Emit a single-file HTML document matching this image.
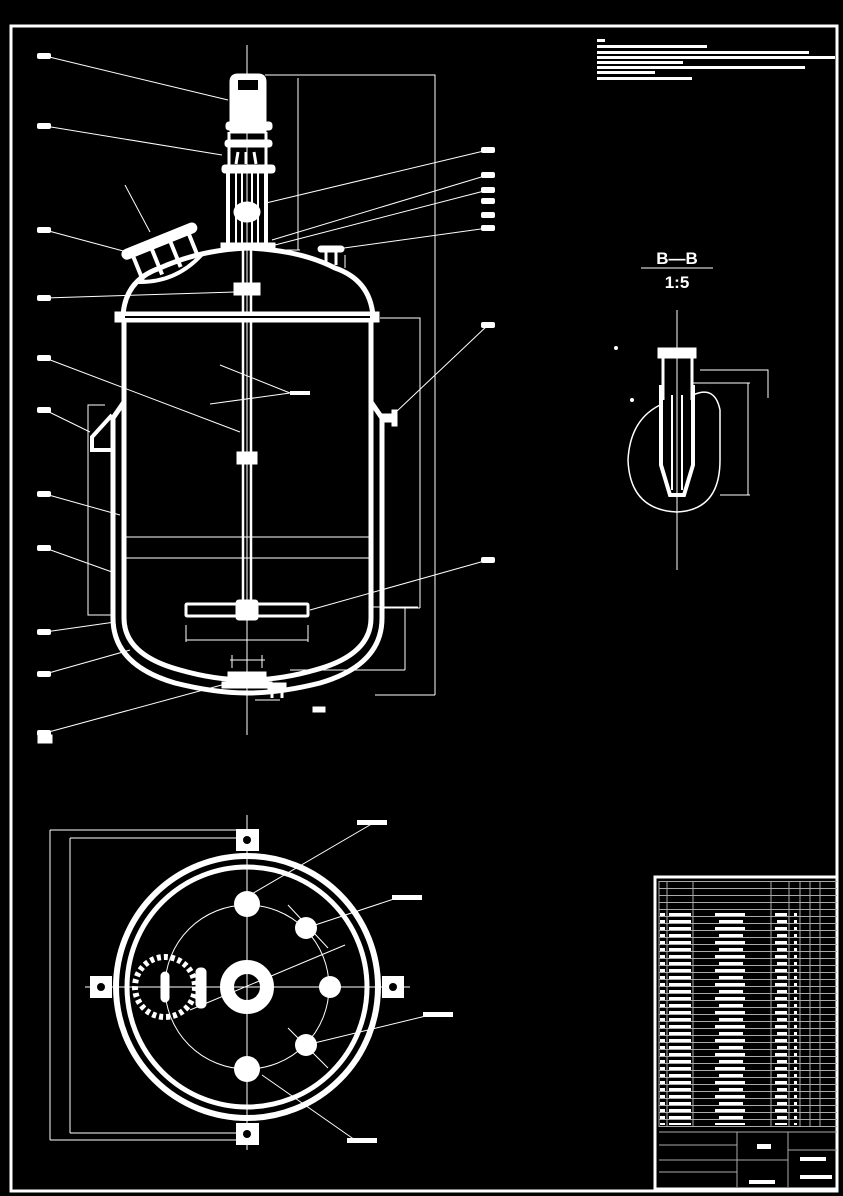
<!DOCTYPE html>
<html><head><meta charset="utf-8"><style>
html,body{margin:0;padding:0;background:#000;}
svg{display:block;}
text{font-family:"Liberation Sans",sans-serif;fill:#fff;}
</style></head><body>
<svg width="843" height="1196" viewBox="0 0 843 1196" xmlns="http://www.w3.org/2000/svg">
<defs>
<pattern id="rows" x="659" y="881" width="10" height="7" patternUnits="userSpaceOnUse">
<line x1="0" y1="0.5" x2="10" y2="0.5" stroke="#aaa" stroke-width="1"/>
</pattern>
<pattern id="bars" x="659" y="909" width="178" height="14" patternUnits="userSpaceOnUse">
<rect x="1" y="4" width="5" height="3" fill="#fff"/>
<rect x="10" y="4" width="22" height="3" fill="#fff"/>
<rect x="56" y="4" width="30" height="3" fill="#fff"/>
<rect x="116" y="4" width="12" height="3" fill="#fff"/>
<rect x="135" y="4" width="3" height="3" fill="#fff"/>
<rect x="1" y="11" width="5" height="3" fill="#fff"/>
<rect x="10" y="11" width="22" height="3" fill="#fff"/>
<rect x="60" y="11" width="24" height="3" fill="#fff"/>
<rect x="118" y="11" width="10" height="3" fill="#fff"/>
<rect x="135" y="11" width="3" height="3" fill="#fff"/>
</pattern>
</defs>
<rect width="843" height="1196" fill="#000"/>
<rect x="11" y="26" width="826" height="1165" fill="none" stroke="#fff" stroke-width="3"/>
<g fill="#fff">
<rect x="597" y="39" width="8" height="3"/>
<rect x="597" y="45" width="110" height="3"/>
<rect x="597" y="51" width="212" height="3"/>
<rect x="597" y="56" width="238" height="3"/>
<rect x="597" y="61" width="86" height="3"/>
<rect x="597" y="66" width="208" height="3"/>
<rect x="597" y="71" width="58" height="3"/>
<rect x="597" y="77" width="95" height="3"/>
</g>

<g stroke="#fff" fill="none">
<line x1="247" y1="45" x2="247" y2="735" stroke-width="1"/>
<path d="M231,132 L231,82 Q231,75 238,75 L258,75 Q265,75 265,82 L265,132 Z" stroke-width="3" fill="#fff"/>
<rect x="238" y="80" width="20" height="10" fill="#000" stroke="none"/>
<rect x="226" y="122" width="46" height="8" rx="3" fill="#fff" stroke-width="1"/>
<rect x="225" y="140" width="47" height="7" rx="3" fill="#fff" stroke-width="1"/>
<rect x="222" y="165" width="53" height="8" rx="3" fill="#fff" stroke-width="1"/>
<path d="M229,132 L229,165 M266,132 L266,165" stroke-width="3"/>
<path d="M238,152 L236,164 M246,152 L246,164 M254,152 L256,164" stroke-width="3"/>
<path d="M228,173 L228,245 M266,173 L266,245" stroke-width="4"/>
<path d="M236,173 L236,245 M242,173 L242,245 M252,173 L252,245 M258,173 L258,245" stroke-width="2"/>
<ellipse cx="247" cy="212" rx="13" ry="10" fill="#fff" stroke-width="1"/>
<rect x="221" y="243" width="54" height="7" fill="#fff" stroke-width="1"/>
<path d="M243,250 L243,605 M251,250 L251,605" stroke-width="2.5"/>
<rect x="234" y="283" width="26" height="12" fill="#fff" stroke-width="1"/>
<rect x="237" y="452" width="20" height="12" fill="#fff" stroke-width="1"/>
<rect x="186" y="604" width="122" height="12" rx="1" stroke-width="3"/>
<rect x="236" y="600" width="22" height="20" rx="3" fill="#fff" stroke-width="1"/>
<path d="M186,640 L308,640 M186,625 L186,642 M308,625 L308,642" stroke-width="1"/>
<path d="M123,316 Q125,280 160,268 Q200,250 247,248 Q300,250 335,268 Q370,280 373,316" stroke-width="5"/>
<rect x="115" y="312" width="264" height="10" fill="#fff" stroke-width="1"/>
<line x1="125" y1="317" x2="370" y2="317" stroke="#000" stroke-width="2"/>
<path d="M124,322 L124,618 Q124,655 180,670 Q215,680 247,680 Q280,680 315,670 Q371,655 371,618 L371,322" stroke-width="5"/>
<path d="M124,402 L113,418 L113,618 Q113,665 175,683 Q215,693 247,693 Q280,693 320,683 Q382,665 382,618 L382,418 L371,402" stroke-width="5"/>
<g transform="rotate(-22 165 255)">
<rect x="125" y="235" width="80" height="10" rx="5" fill="#fff" stroke-width="1"/>
<path d="M135,245 L135,270 M155,245 L155,272 M175,245 L175,272 M195,245 L195,270 M130,270 Q165,285 200,268" stroke-width="4"/>
</g>
<rect x="318" y="246" width="26" height="6" rx="3" fill="#fff" stroke-width="1"/>
<path d="M326,252 L326,265 M336,252 L336,265" stroke-width="3"/>
<rect x="382" y="414" width="12" height="8" fill="#fff" stroke-width="1"/>
<rect x="392" y="410" width="5" height="16" fill="#fff" stroke-width="1"/>
<path d="M112,415 L92,437 L92,450 L112,450" stroke-width="4"/>
<rect x="228" y="672" width="38" height="10" fill="#fff" stroke-width="1"/>
<rect x="222" y="682" width="50" height="6" fill="#fff" stroke-width="1"/>
<rect x="268" y="683" width="18" height="7" fill="#fff" stroke-width="1"/>
<path d="M272,690 L272,698 M282,690 L282,698" stroke-width="3"/>
<rect x="313" y="707" width="12" height="5" fill="#fff" stroke-width="1"/>
<rect x="38" y="735" width="14" height="8" fill="#fff" stroke-width="1"/>
<path d="M124,537 L371,537 M124,558 L371,558" stroke-width="1"/>
<path d="M220,365 L290,393 M210,404 L290,393" stroke-width="1"/>
<rect x="290" y="391" width="20" height="4" fill="#fff" stroke="none"/>
</g>

<g stroke="#fff" stroke-width="1" fill="none">
<path d="M265,75 L435,75 L435,695 M375,695 L435,695"/>
<path d="M298,78 L298,250 M280,250 L300,250"/>
<path d="M380,318 L420,318 L420,608 M380,608 L420,608"/>
<path d="M372,607 L418,607 M405,607 L405,670 M290,670 L405,670"/>
<path d="M105,405 L88,405 L88,615 L112,615"/>
<path d="M230,660 L265,660 M232,655 L232,668 M262,655 L262,668"/>
<path d="M255,700 L280,700 M345,255 L345,268"/>
<path d="M125,185 L150,232"/>
</g>

<g stroke="#fff" stroke-width="1" fill="none">
<path d="M45,56 L228,100"/>
<path d="M45,126 L222,155"/>
<path d="M45,230 L127,252"/>
<path d="M45,298 L235,292"/>
<path d="M45,358 L240,432"/>
<path d="M45,410 L90,432"/>
<path d="M45,494 L120,515"/>
<path d="M45,548 L112,572"/>
<path d="M45,632 L115,622"/>
<path d="M45,674 L130,650"/>
<path d="M45,733 L240,680"/>
<path d="M488,150 L266,203"/>
<path d="M488,175 L272,240"/>
<path d="M488,190 L275,245"/>
<path d="M488,228 L344,248"/>
<path d="M488,325 L396,412"/>
<path d="M488,560 L310,610"/>
</g>
<g fill="#fff">
<rect x="37" y="53" width="14" height="6" rx="2"/>
<rect x="37" y="123" width="14" height="6" rx="2"/>
<rect x="37" y="227" width="14" height="6" rx="2"/>
<rect x="37" y="295" width="14" height="6" rx="2"/>
<rect x="37" y="355" width="14" height="6" rx="2"/>
<rect x="37" y="407" width="14" height="6" rx="2"/>
<rect x="37" y="491" width="14" height="6" rx="2"/>
<rect x="37" y="545" width="14" height="6" rx="2"/>
<rect x="37" y="629" width="14" height="6" rx="2"/>
<rect x="37" y="671" width="14" height="6" rx="2"/>
<rect x="37" y="730" width="14" height="6" rx="2"/>
<rect x="481" y="147" width="14" height="6" rx="2"/>
<rect x="481" y="172" width="14" height="6" rx="2"/>
<rect x="481" y="187" width="14" height="6" rx="2"/>
<rect x="481" y="198" width="14" height="6" rx="2"/>
<rect x="481" y="212" width="14" height="6" rx="2"/>
<rect x="481" y="225" width="14" height="6" rx="2"/>
<rect x="481" y="322" width="14" height="6" rx="2"/>
<rect x="481" y="557" width="14" height="6" rx="2"/>
</g>

<text x="677" y="264" font-size="17" font-weight="bold" text-anchor="middle" font-family="Liberation Serif">B—B</text>
<line x1="641" y1="268" x2="713" y2="268" stroke="#fff" stroke-width="1"/>
<text x="677" y="288" font-size="17" font-weight="bold" text-anchor="middle" font-family="Liberation Serif">1:5</text>
<g stroke="#fff" fill="none">
<line x1="677" y1="310" x2="677" y2="570" stroke-width="1"/>
<rect x="658" y="348" width="38" height="10" fill="#fff" stroke-width="1"/>
<path d="M663,358 L663,400 M692,358 L692,400" stroke-width="3"/>
<path d="M661,385 L661,465 L670,495 L684,495 L693,465 L693,385" stroke-width="4"/>
<path d="M672,395 L672,490 M682,395 L682,490" stroke-width="2"/>
<path d="M660,405 Q630,420 628,460 Q630,510 677,512 Q720,510 720,460 L720,410 Q715,385 693,395" stroke-width="1.5"/>
<path d="M693,383 L750,383 M700,370 L768,370 L768,398 M720,495 L750,495 M748,383 L748,495" stroke-width="1"/>
</g>
<circle cx="616" cy="348" r="2" fill="#fff"/>
<circle cx="632" cy="400" r="2" fill="#fff"/>

<g stroke="#fff" fill="none">
<line x1="247" y1="815" x2="247" y2="1150" stroke-width="1"/>
<line x1="85" y1="987" x2="410" y2="987" stroke-width="1"/>
<path d="M70,838 L247,838 M70,1133 L247,1133 M70,838 L70,1133 M50,830 L240,830 M50,1140 L240,1140 M50,830 L50,1140" stroke-width="1"/>
<circle cx="247" cy="987" r="131" stroke-width="6"/>
<circle cx="247" cy="987" r="120" stroke-width="5"/>
<circle cx="247" cy="987" r="82" stroke-width="1"/>
<circle cx="247" cy="987" r="20" stroke="#fff" stroke-width="14"/>
<circle cx="165" cy="987" r="30" stroke-width="6" stroke-dasharray="4 3"/>
<rect x="161" y="972" width="8" height="30" rx="4" fill="#fff" stroke-width="1"/>
<rect x="196" y="968" width="10" height="40" rx="4" fill="#fff" stroke-width="1"/>
<path d="M250,895 L375,822 M306,928 L400,897 M306,1045 L430,1015 M262,1075 L355,1140 M190,1010 L345,945" stroke-width="1"/>
<path d="M288,905 L328,948 M288,1028 L328,1068" stroke-width="1"/>
</g>
<g fill="#fff">
<circle cx="247" cy="904" r="13"/>
<circle cx="306" cy="928" r="11"/>
<circle cx="330" cy="987" r="11"/>
<circle cx="306" cy="1045" r="11"/>
<circle cx="247" cy="1069" r="13"/>
<rect x="236" y="829" width="23" height="22"/>
<rect x="236" y="1123" width="23" height="22"/>
<rect x="90" y="976" width="22" height="22"/>
<rect x="382" y="976" width="22" height="22"/>
<rect x="357" y="820" width="30" height="5"/>
<rect x="392" y="895" width="30" height="5"/>
<rect x="423" y="1012" width="30" height="5"/>
<rect x="347" y="1138" width="30" height="5"/>
</g>
<g fill="#000"><circle cx="247" cy="840" r="4"/><circle cx="247" cy="1134" r="4"/><circle cx="101" cy="987" r="4"/><circle cx="393" cy="987" r="4"/></g>

<g stroke="#fff" fill="none">
<rect x="655" y="877" width="182" height="312" stroke-width="3"/>
<rect x="659" y="881" width="178" height="246" fill="url(#rows)" stroke="none"/>
<rect x="659" y="909" width="178" height="216" fill="url(#bars)" stroke="none"/>
<path d="M659,881 L659,1127 M667,881 L667,1127 M693,881 L693,1127 M771,881 L771,1127 M789,881 L789,1127 M800,881 L800,1127 M810,881 L810,1127 M820,881 L820,1127" stroke="#aaa" stroke-width="1"/>
<path d="M659,1132 L837,1132 M737,1132 L737,1187 M788,1132 L788,1187 M788,1150 L837,1150 M737,1160 L788,1160 M659,1145 L737,1145 M659,1160 L737,1160 M659,1172 L737,1172" stroke="#aaa" stroke-width="1"/>
</g>
<g fill="#fff">
<rect x="757" y="1144" width="14" height="5"/>
<rect x="800" y="1157" width="26" height="4"/>
<rect x="800" y="1175" width="32" height="4"/>
<rect x="749" y="1180" width="26" height="4"/>
</g>
</svg>
</body></html>
